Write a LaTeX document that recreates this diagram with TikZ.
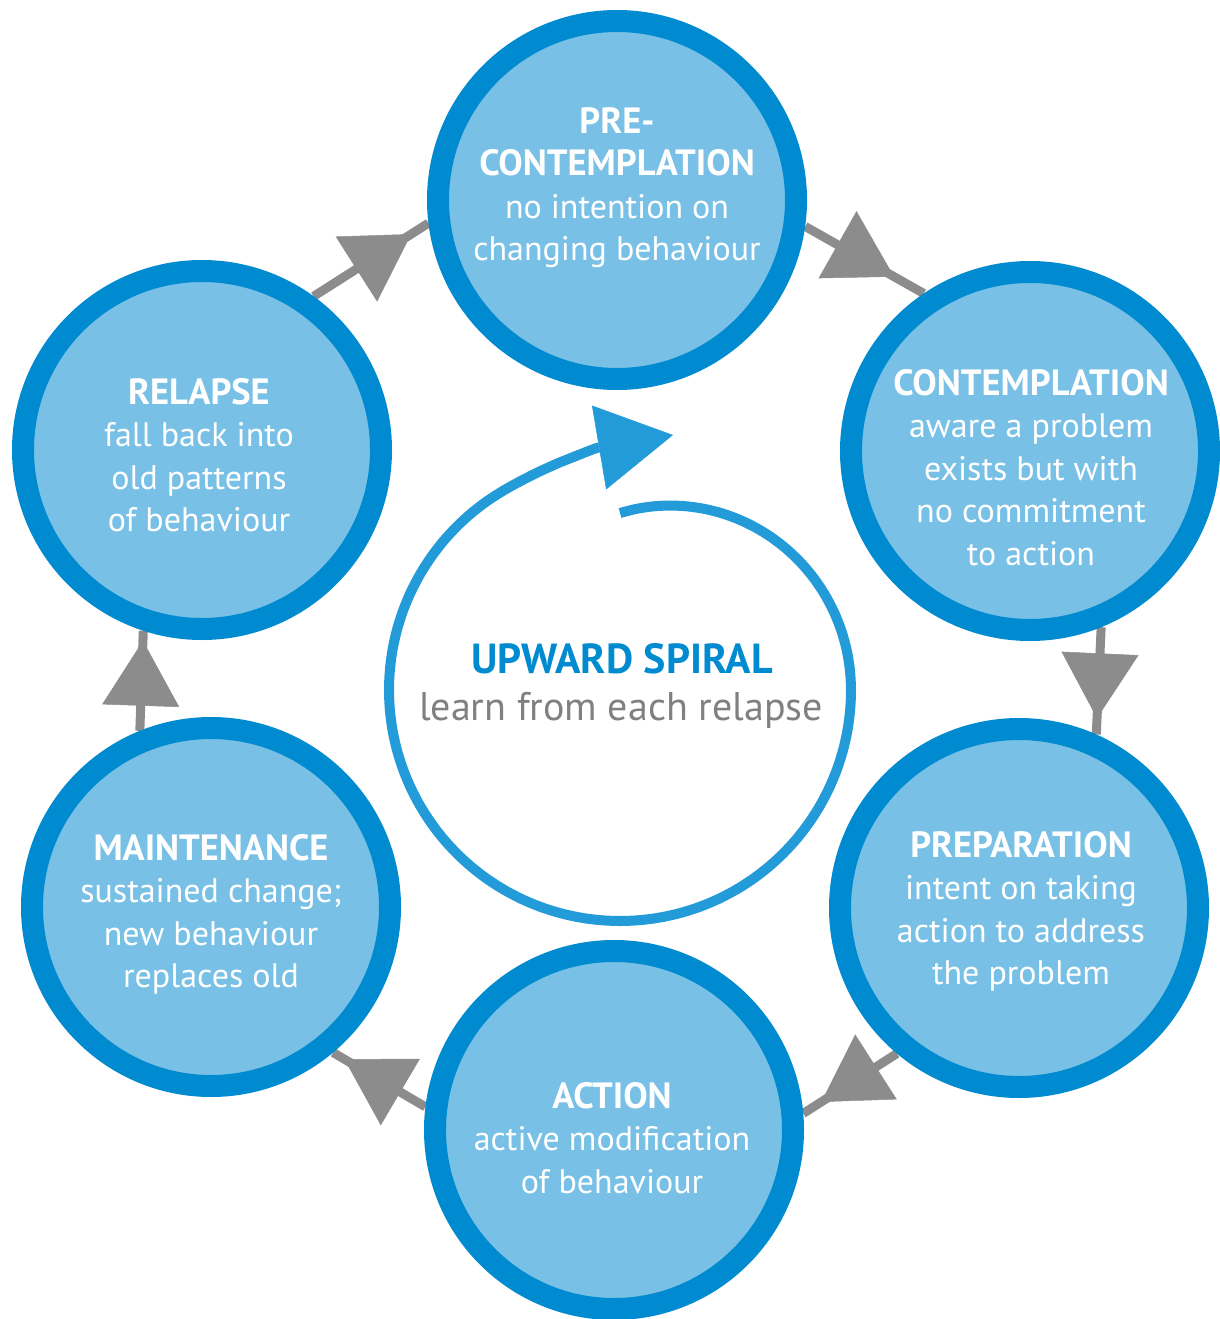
\documentclass[tikz,border=0pt]{standalone}
\usepackage{fontspec}
\setmainfont{PT Sans}
\usetikzlibrary{arrows.meta,decorations.markings,backgrounds}
\definecolor{ringblue}{RGB}{0,138,208}
\definecolor{fillblue}{RGB}{120,192,230}
\definecolor{spiralblue}{RGB}{35,155,216}
\definecolor{arrowgray}{RGB}{140,140,140}
\definecolor{textgray}{RGB}{128,128,128}
\newcommand{\hd}[1]{{\fontsize{36.5}{42.5}\selectfont\bfseries #1}}
\begin{document}
\begin{tikzpicture}[x=1pt,y=-1pt,
  stage/.style={circle, draw=ringblue, fill=fillblue, line width=22pt, minimum size=358pt, inner sep=0pt},
  stagetext/.style={anchor=north, inner sep=0pt, align=center, text=white, font=\fontsize{34}{42.5}\selectfont},
  flow/.style={draw=arrowgray, color=arrowgray, line width=9pt, postaction={decorate},
    decoration={markings, mark=at position #1 with {\arrow{Triangle[length=65pt,width=77pt,line width=0.5pt]}}}},
  spiralline/.style={draw=spiralblue, line width=10pt, -{Triangle[length=75pt,width=85pt,line width=0.5pt]}}
]
\useasboundingbox (0,0) rectangle (1220,1319);

\node[stage] (pre) at (617,200) {};
\node[stage] (cont) at (1030,451) {};
\node[stage] (prep) at (1019,908) {};
\node[stage] (act) at (614,1130) {};
\node[stage] (maint) at (211,907) {};
\node[stage] (rel) at (202,450) {};

\node[stagetext] (preT) at (617,107) {\hd{PRE-}\\\hd{CONTEMPLATION}\\no intention on\\changing behaviour};
\node[stagetext] (contT) at (1031,369) {\hd{CONTEMPLATION}\\aware a problem\\exists but with\\no commitment\\to action};
\node[stagetext] (prepT) at (1021,831) {\hd{PREPARATION}\\intent on taking\\action to address\\the problem};
\node[stagetext] (actT) at (612,1082) {\hd{ACTION}\\active modification\\of behaviour};
\node[stagetext] (maintT) at (211,834) {\hd{MAINTENANCE}\\sustained change;\\new behaviour\\replaces old};
\node[stagetext] (relT) at (199,378) {\hd{RELAPSE}\\fall back into\\old patterns\\of behaviour};

\begin{pgfonlayer}{background}
\draw[flow=0.75] (pre.-8) -- (cont.124);
\draw[flow=0.85] (cont.-68) -- (prep.66);
\draw[flow=0.81] (prep.-130) -- (act.5);
\draw[flow=0.88] (act.173) -- (maint.-50);
\draw[flow=0.9] (maint.112) -- (rel.-108);
\draw[flow=0.85] (rel.54) -- (pre.-173);
\end{pgfonlayer}

\coordinate (spTip) at (673,435);
\draw[spiralline] plot[smooth, domain=0:345, samples=70]
  ({620 + (177 + 54*sin(min(\x,90)) + 0.0192*(max(\x-330,0))^2)*sin(\x)},
   {690 - (177 + 54*sin(min(\x,90)) + 0.0192*(max(\x-330,0))^2)*cos(\x)}) .. controls (596,448) .. (spTip);

\node[anchor=base, inner sep=0pt, text=ringblue, font=\fontsize{42}{48}\selectfont\bfseries] (upT) at (622,673) {UPWARD SPIRAL};
\node[anchor=base, inner sep=0pt, text=textgray, font=\fontsize{40}{46}\selectfont] (learnT) at (621,720) {learn from each relapse};
\end{tikzpicture}
\end{document}
